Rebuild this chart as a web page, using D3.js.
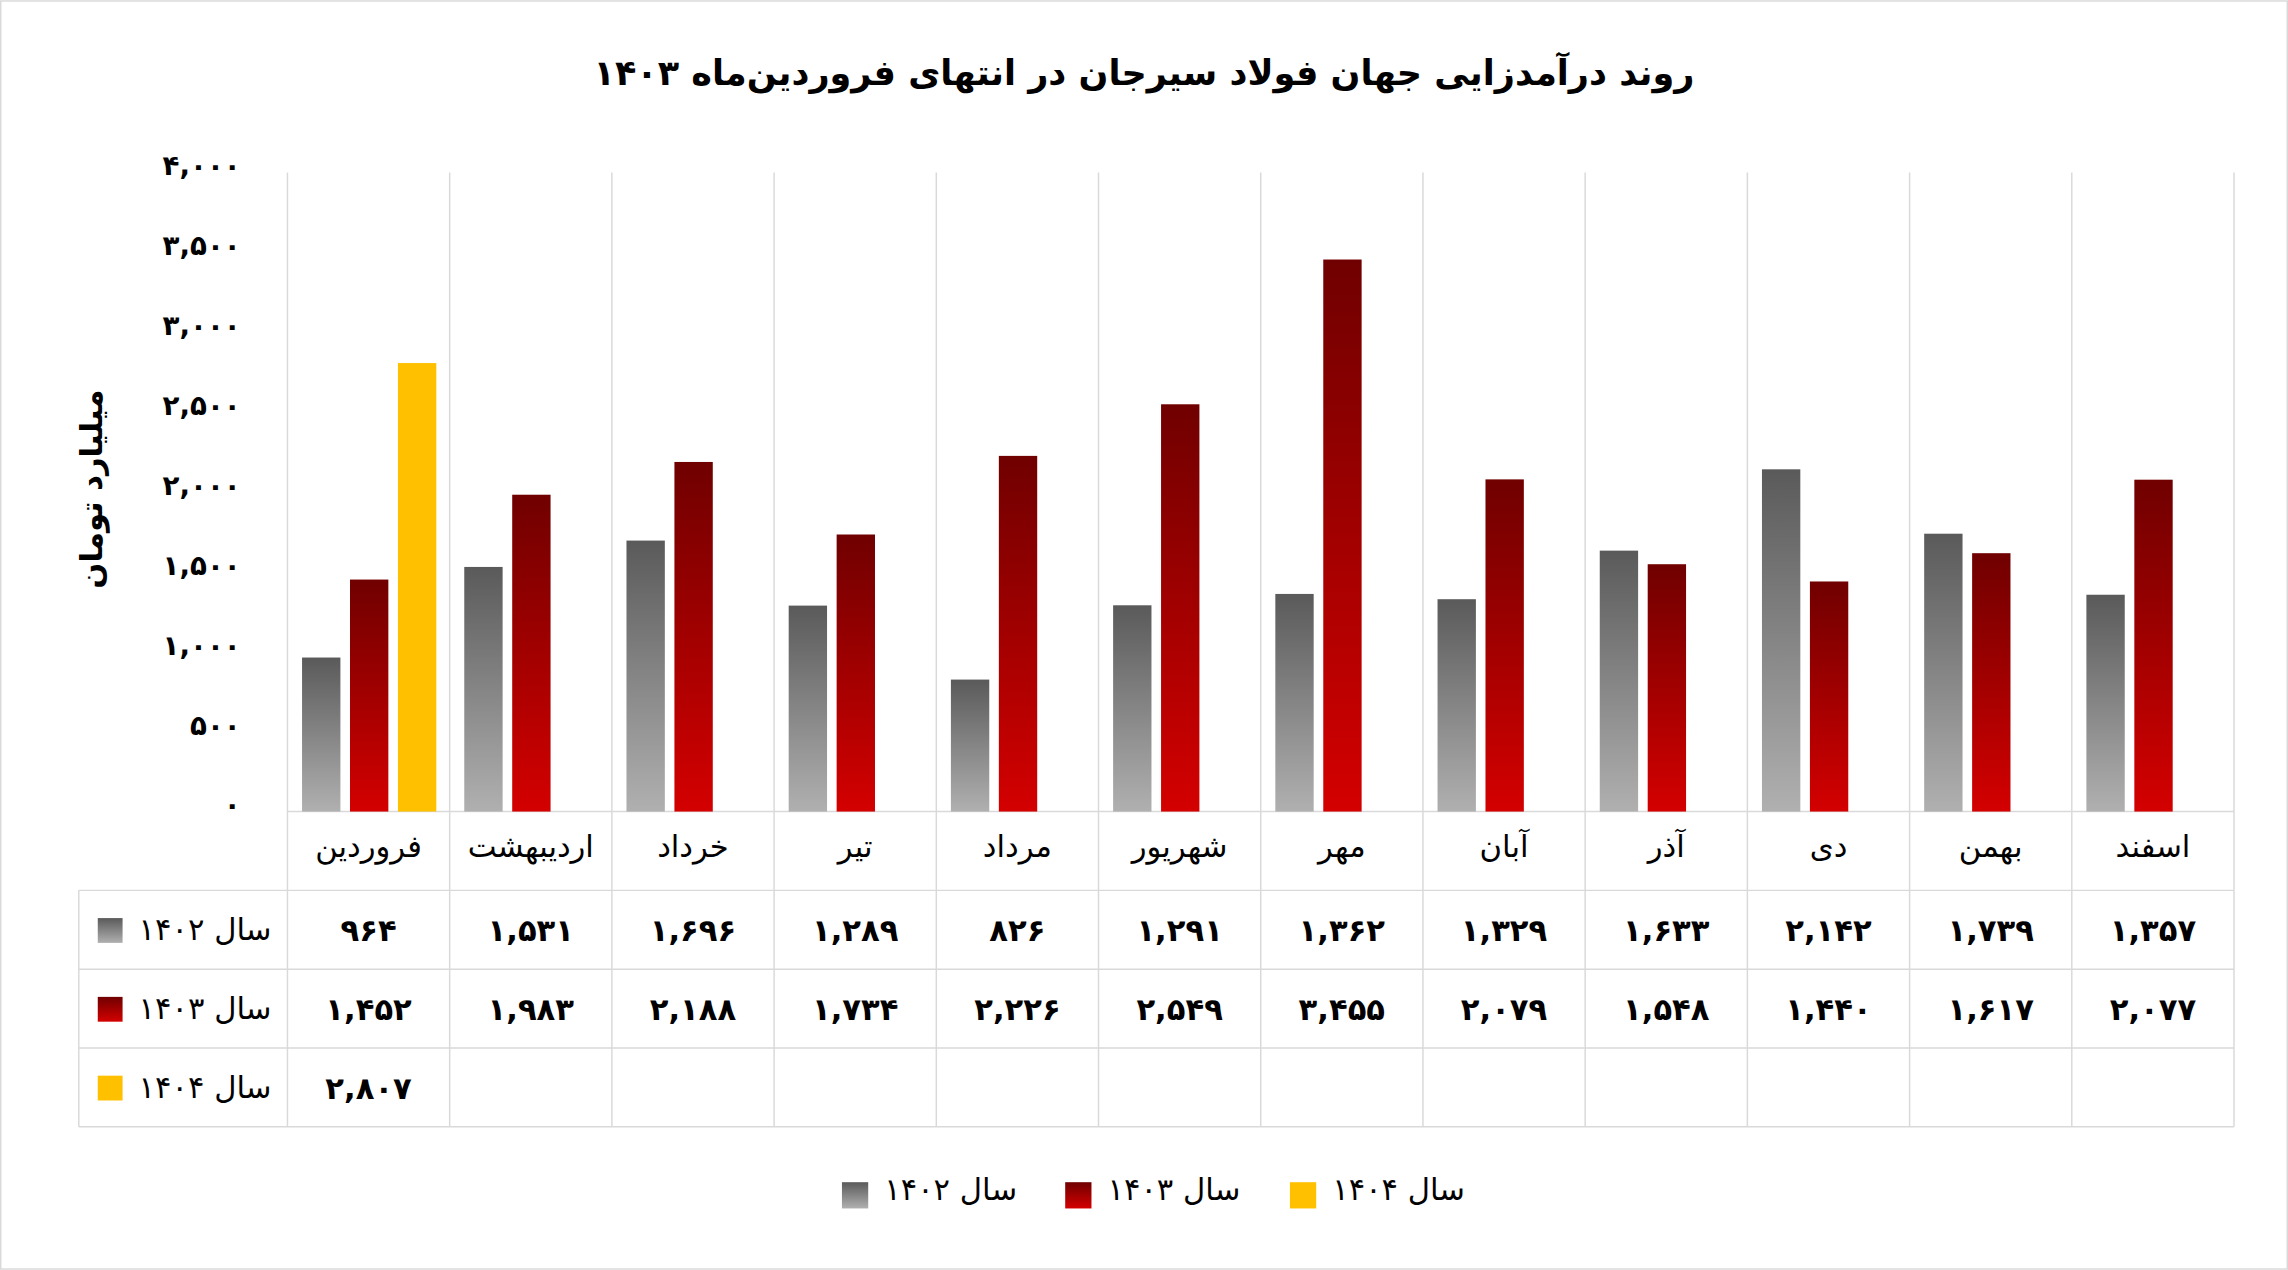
<!DOCTYPE html>
<html><head><meta charset="utf-8">
<script src="https://cdn.jsdelivr.net/npm/d3@7"></script>
<style>body{margin:0;background:#fff}text{font-family:"DejaVu Sans","Noto Sans",sans-serif}</style>
</head><body><div id="chart"></div>
<script>
// data
const months = ['فروردین','اردیبهشت','خرداد','تیر','مرداد','شهریور','مهر','آبان','آذر','دی','بهمن','اسفند'];
const series = ['سال ۱۴۰۲','سال ۱۴۰۳','سال ۱۴۰۴'];
const v1402 = [964,1531,1696,1289,826,1291,1362,1329,1633,2142,1739,1357];
const v1403 = [1452,1983,2188,1734,2226,2549,3455,2079,1548,1440,1617,2077];
const v1404 = [2807,null,null,null,null,null,null,null,null,null,null,null];
const yTicks = [0,500,1000,1500,2000,2500,3000,3500,4000];
const values = [v1402, v1403, v1404];

const fa = n => String(d3.format(',')(n)).replace(/\d/g, d => '۰۱۲۳۴۵۶۷۸۹'[d]);

const svg = d3.select('#chart').append('svg')
    .attr('width', 2288).attr('height', 1270)
    .attr('viewBox', '0 0 1568 870');

const defs = svg.append('defs');
const grads = [['g0','#5a5a5a','#b0b0b0'],['g1','#700000','#d40000'],['g2','#ffc000','#ffc000']];
grads.forEach(([id, c1, c2]) => {
    const g = defs.append('linearGradient').attr('id', id).attr('x1',0).attr('x2',0).attr('y1',0).attr('y2',1);
    g.append('stop').attr('offset','0%').attr('stop-color', c1);
    g.append('stop').attr('offset','100%').attr('stop-color', c2);
});

svg.append('rect').attr('x',0.5).attr('y',0.5).attr('width',1567).attr('height',869)
    .attr('fill','#fff').attr('stroke','#d9d9d9');

const pLeft = 197, pRight = 1531, pTop = 118, pBottom = 556;
const x = d3.scaleBand().domain(months).range([pLeft, pRight]);
const xs = d3.scaleBand().domain([0,1,2]).range([10, 102]).paddingInner(0.2);
const y = d3.scaleLinear().domain([0, 4000]).range([pBottom, pTop]);

svg.append('text').attr('x', 784).attr('y', 58).attr('text-anchor','middle')
    .attr('font-size', 24).attr('font-weight','bold').attr('fill','#000')
    .text('روند درآمدزایی جهان فولاد سیرجان در انتهای فروردین‌ماه ۱۴۰۳');

// grid
const rowY = [556, 610, 664, 718, 772];
svg.selectAll('.vg').data(d3.range(13)).join('line')
    .attr('x1', i => pLeft + i * x.step()).attr('x2', i => pLeft + i * x.step())
    .attr('y1', 118).attr('y2', 772).attr('stroke','#d9d9d9');
svg.append('line').attr('x1',54).attr('x2',54).attr('y1',610).attr('y2',772).attr('stroke','#d9d9d9');
svg.selectAll('.hg').data(rowY).join('line')
    .attr('x1', (d,i) => i === 0 ? pLeft : 54).attr('x2', pRight)
    .attr('y1', d => d).attr('y2', d => d).attr('stroke','#d9d9d9');

// y axis labels
svg.selectAll('.yt').data(yTicks).join('text')
    .attr('x', 165).attr('y', d => y(d) + 2).attr('text-anchor','end')
    .attr('font-size', 19).attr('font-weight','bold').text(fa);

svg.append('text').attr('transform','translate(70,335) rotate(-90)')
    .attr('text-anchor','middle').attr('font-size',21).attr('font-weight','bold')
    .text('میلیارد تومان');

// bars
values.forEach((arr, s) => {
    svg.append('g').selectAll('rect').data(months.map((m,i) => ({m, v: arr[i]})).filter(d => d.v != null))
        .join('rect')
        .attr('x', d => x(d.m) + xs(s)).attr('width', xs.bandwidth())
        .attr('y', d => y(d.v)).attr('height', d => pBottom - y(d.v))
        .attr('fill', `url(#g${s})`);
});

// category labels
svg.selectAll('.cl').data(months).join('text')
    .attr('x', d => x(d) + x.bandwidth()/2).attr('y', 587).attr('text-anchor','middle')
    .attr('font-size', 21).text(d => d);

// table rows
values.forEach((arr, s) => {
    const cy = rowY[s+1] + 27;
    svg.append('rect').attr('x', 67).attr('y', cy - 8).attr('width', 17).attr('height', 17)
        .attr('fill', `url(#g${s})`);
    svg.append('text').attr('x', 186).attr('y', cy + 7).attr('text-anchor','end')
        .attr('font-size', 21).text(series[s]);
    svg.append('g').selectAll('text').data(months.map((m,i) => ({m, v: arr[i]})).filter(d => d.v != null))
        .join('text').attr('x', d => x(d.m) + x.bandwidth()/2).attr('y', cy + 8)
        .attr('text-anchor','middle').attr('font-size', 21).attr('font-weight','bold')
        .text(d => fa(d.v));
});

// legend
const lx = [655, 808, 962];
series.forEach((s, i) => {
    svg.append('rect').attr('x', lx[i] - 78).attr('y', 810).attr('width', 18).attr('height', 18)
        .attr('fill', `url(#g${i})`);
    svg.append('text').attr('x', lx[i] + 42).attr('y', 822).attr('text-anchor','end')
        .attr('font-size', 21).text(s);
});
</script></body></html>
